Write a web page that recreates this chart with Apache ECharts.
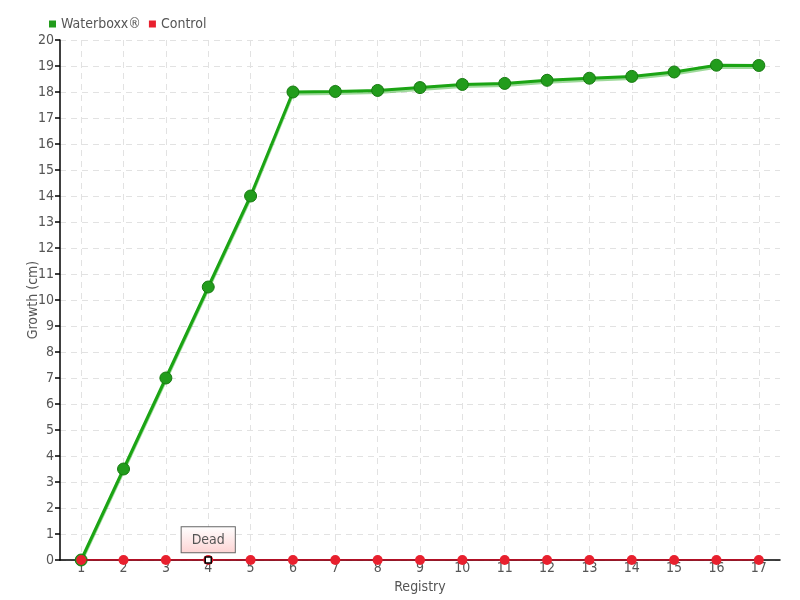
<!DOCTYPE html>
<html>
<head>
<meta charset="utf-8">
<script src="https://cdn.jsdelivr.net/npm/echarts@6/dist/echarts.min.js"></script>
<style>
  html, body { margin: 0; padding: 0; background: #fff; }
  #chart { width: 800px; height: 600px; }
</style>
</head>
<body>
<div id="chart"></div>
<script>
// registries on the x axis
const registry = ['1', '2', '3', '4', '5', '6', '7', '8', '9', '10', '11', '12', '13', '14', '15', '16', '17']
// growth in cm
const waterboxx = [0, 3.5, 7, 10.5, 14, 18, 18.02, 18.06, 18.17, 18.29, 18.33, 18.45, 18.53, 18.6, 18.77, 19.03, 19.02]
const control = [0, 0, 0, 0, 0, 0, 0, 0, 0, 0, 0, 0, 0, 0, 0, 0, 0]
// where the control plant died
const deadAt = { registry: '4', value: 0, text: 'Dead' }

const font = '"DejaVu Sans Condensed", "Liberation Sans Narrow", sans-serif'
const textColor = '#555'

const chart = echarts.init(document.getElementById('chart'))

chart.setOption({
  animation: false,
  textStyle: { fontFamily: font, color: textColor },
  legend: {
    left: 44,
    top: 12,
    itemWidth: 7,
    itemHeight: 7,
    itemGap: 8,
    icon: 'rect',
    itemStyle: { borderWidth: 0 },
    textStyle: { fontFamily: font, fontSize: 14, color: textColor },
    data: ['Waterboxx®', 'Control']
  },
  grid: {
    left: 60,
    right: 20,
    top: 40,
    bottom: 40
  },
  xAxis: {
    type: 'category',
    data: registry,
    boundaryGap: true,
    name: 'Registry',
    nameLocation: 'middle',
    nameGap: 20,
    nameMoveOverlap: false,
    nameTextStyle: { fontFamily: font, fontSize: 14, color: textColor },
    axisLine: { lineStyle: { color: '#000', width: 1.5 } },
    axisTick: { show: false },
    axisLabel: { margin: 1, fontFamily: font, fontSize: 14, color: textColor },
    splitLine: {
      show: true,
      alignWithLabel: true,
      lineStyle: { color: '#e2e2e2', type: [6, 5], width: 1 }
    }
  },
  yAxis: {
    type: 'value',
    min: 0,
    max: 20,
    interval: 1,
    name: 'Growth (cm)',
    nameLocation: 'middle',
    nameGap: 20,
    nameMoveOverlap: false,
    nameTextStyle: { fontFamily: font, fontSize: 14, color: textColor },
    axisLine: { show: true, lineStyle: { color: '#000', width: 1.5 } },
    axisTick: { show: true, length: 5, lineStyle: { color: '#000', width: 1.5 } },
    axisLabel: { margin: 6, fontFamily: font, fontSize: 14, color: textColor },
    splitLine: {
      show: true,
      lineStyle: { color: '#e2e2e2', type: [6, 5], width: 1 }
    }
  },
  series: [
    {
      name: 'Waterboxx®',
      type: 'line',
      data: waterboxx,
      symbol: 'circle',
      symbolSize: 12,
      color: '#1ba414',
      lineStyle: {
        color: '#1ba414',
        width: 3,
        shadowColor: 'rgba(40, 170, 30, 0.45)',
        shadowBlur: 0,
        shadowOffsetY: 2
      },
      itemStyle: { color: '#229c1c', borderColor: '#167a10', borderWidth: 1 },
      z: 2
    },
    {
      name: 'Control',
      type: 'line',
      data: control,
      symbol: 'circle',
      symbolSize: 10,
      color: '#e8172b',
      lineStyle: { color: '#d9001e', width: 1.5 },
      itemStyle: { color: '#e8202e', borderWidth: 0 },
      z: 3,
      markPoint: {
        symbol: 'rect',
        symbolSize: 6,
        itemStyle: { color: '#fff', borderColor: '#000', borderWidth: 1.5 },
        label: {
          show: true,
          position: 'top',
          distance: 4,
          formatter: deadAt.text,
          fontFamily: font,
          fontSize: 14,
          color: textColor,
          padding: [6, 10, 5, 10],
          borderColor: '#666',
          borderWidth: 1,
          backgroundColor: {
            type: 'linear', x: 0, y: 0, x2: 0, y2: 1,
            colorStops: [{ offset: 0, color: '#ffffff' }, { offset: 1, color: '#fdd3d3' }]
          }
        },
        data: [{ coord: [deadAt.registry, deadAt.value] }]
      }
    }
  ]
})
</script>
</body>
</html>
